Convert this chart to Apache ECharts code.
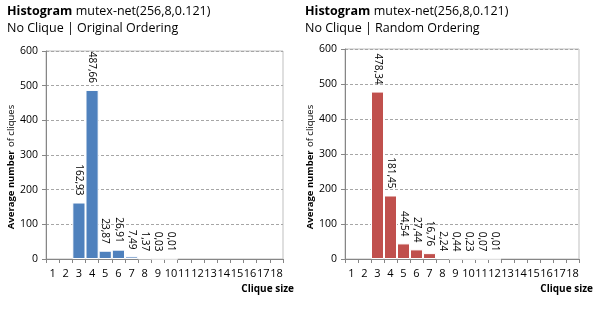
<!DOCTYPE html>
<html><head><meta charset="utf-8">
<script src="https://cdn.jsdelivr.net/npm/echarts@6/dist/echarts.min.js"></script>
<style>html,body{margin:0;padding:0;background:#fff}#c{width:598px;height:310px}</style>
</head><body><div id="c"></div>
<script>
const categories = ['1','2','3','4','5','6','7','8','9','10','11','12','13','14','15','16','17','18'];
const originalValues = [null,null,162.93,487.66,23.87,26.91,7.49,1.37,0.03,0.01,null,null,null,null,null,null,null,null];
const randomValues = [null,null,478.34,181.45,44.54,27.44,16.76,2.24,0.44,0.23,0.07,0.01,null,null,null,null,null,null];
const yTicks = [0,100,200,300,400,500,600];
const titleMain = 'mutex-net(256,8,0.121)';
const subLeft = 'No Clique | Original Ordering';
const subRight = 'No Clique | Random Ordering';

const FONT = 'Open Sans';
const NARROW = '"Liberation Sans Narrow", "Open Sans"';
const chart = echarts.init(document.getElementById('c'), null, {renderer:'canvas'});

function grid(left, top, width, height){
  return {left, top, width, height, show:true, borderColor:'#bfbfbf', borderWidth:1, containLabel:false};
}
function xAx(i){
  return {type:'category', gridIndex:i, data:categories,
    axisLine:{lineStyle:{color:'#868686'}},
    axisTick:{show:true, alignWithLabel:false, length:4, lineStyle:{color:'#868686'}},
    axisLabel:{color:'#000', fontFamily:NARROW, fontSize:11, margin:9, interval:0},
    splitLine:{show:false}};
}
function yAx(i){
  return {type:'value', gridIndex:i, min:yTicks[0], max:yTicks[yTicks.length-1], interval:100,
    axisLine:{show:true, lineStyle:{color:'#868686'}},
    axisTick:{show:true, length:4, lineStyle:{color:'#868686'}},
    axisLabel:{color:'#000', fontFamily:FONT, fontSize:10.5, margin:8},
    splitLine:{show:true, lineStyle:{color:'#a6a6a6', type:[3,2], width:1}}};
}
function fmt(p){ return p.value == null ? '' : p.value.toFixed(2).replace('.', ','); }
function series(i, data, color){
  return {type:'bar', xAxisIndex:i, yAxisIndex:i, data, barCategoryGap:'0%',
    itemStyle:{color, borderColor:'#ffffff', borderWidth:1},
    label:{show:true, position:'top', distance:7, rotate:-90, align:'right', verticalAlign:'middle',
      formatter:fmt, color:'#000', fontFamily:FONT, fontSize:10},
    emphasis:{disabled:true}, animation:false};
}
function titleText(x, sub){
  return {type:'text', left:x, top:5, style:{
    text:'{b|Histogram} {n|'+titleMain+'}\n{n|'+sub+'}',
    rich:{b:{fontFamily:FONT, fontSize:12.5, fontWeight:'bold', fill:'#000', lineHeight:17},
          n:{fontFamily:FONT, fontSize:12.5, fill:'#000', lineHeight:17}}}};
}
function yName(x, cy){
  return {type:'text', x:x, y:cy, rotation:Math.PI/2, style:{
    text:'{b|Average number} {n|of cliques}', align:'center', verticalAlign:'middle',
    rich:{b:{fontFamily:FONT, fontSize:9.5, fontWeight:'bold', fill:'#000'},
          n:{fontFamily:FONT, fontSize:9.5, fill:'#000'}}}};
}
function xName(right){
  return {type:'text', right:right, top:284, style:{text:'Clique size', fontFamily:FONT, fontSize:10, fontWeight:'bold', fill:'#000'}};
}
chart.setOption({
  animation:false,
  grid:[grid(46,51,237,208), grid(345,49,234,210)],
  xAxis:[xAx(0), xAx(1)],
  yAxis:[yAx(0), yAx(1)],
  series:[series(0, originalValues, '#4f81bd'), series(1, randomValues, '#c0504d')],
  graphic:[titleText(7,subLeft), titleText(305,subRight), yName(11,167), yName(310,167), xName(304), xName(5)]
});
</script></body></html>
